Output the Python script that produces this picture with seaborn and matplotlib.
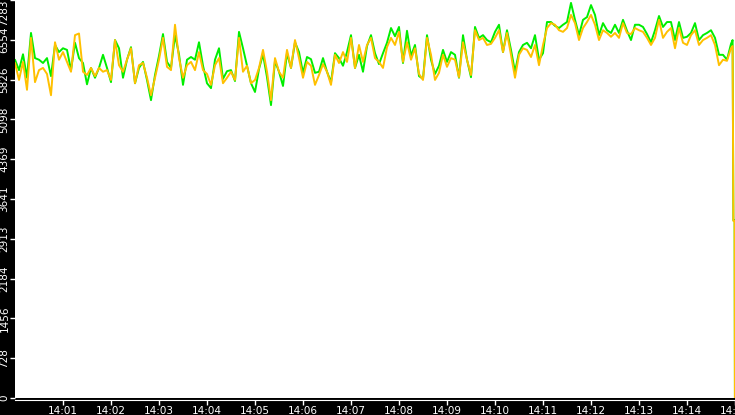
import numpy as np
import pandas as pd
import matplotlib
matplotlib.use("Agg")
import matplotlib.pyplot as plt
import matplotlib.dates as mdates
import seaborn as sns

# 卖价(绿) / 买价(黄), 14:00:00 起每 5 秒一个点
ask_values = [
    6190, 6000, 6290, 5860, 6680, 6220, 6190, 6130, 6220, 5890, 6460, 6330, 6400, 6370, 6000,
    6500, 6220, 6130, 5740, 6040, 5860, 6040, 6280, 6040, 5780, 6550, 6400, 5860, 6190, 6420,
    5760, 6040, 6150, 5820, 5450, 5910, 6260, 6660, 6150, 6040, 6640, 6290, 5730, 6190, 6240,
    6190, 6510, 6080, 5760, 5670, 6190, 6400, 5840, 5980, 6000, 5800, 6700, 6400, 6080, 5760,
    5600, 6020, 6290, 5870, 5360, 6170, 5970, 5710, 6310, 6040, 6510, 6330, 5950, 6240, 6200,
    5950, 5970, 6220, 5970, 5780, 6310, 6220, 6080, 6330, 6640, 6040, 6280, 5970, 6440, 6640,
    6310, 6110, 6310, 6500, 6770, 6620, 6790, 6130, 6720, 6260, 6460, 5890, 5840, 6640, 6190,
    5930, 6080, 6370, 6150, 6330, 6280, 5860, 6640, 6190, 5870, 6790, 6590, 6640, 6550, 6510,
    6700, 6830, 6330, 6730, 6370, 5970, 6330, 6460, 6500, 6400, 6640, 6190, 6310, 6880, 6880,
    6810, 6770, 6830, 6880, 7230, 6920, 6640, 6920, 6970, 7190, 7010, 6640, 6860, 6730, 6680,
    6830, 6680, 6920, 6720, 6550, 6830, 6830, 6790, 6660, 6510, 6730, 6990, 6790, 6880, 6880,
    6550, 6880, 6590, 6610, 6680, 6860, 6550, 6640, 6680, 6730, 6590, 6280, 6280, 6190, 6480,
]
bid_values = [
    6130, 5820, 6150, 5640, 6590, 5780, 6000, 6040, 5930, 5540, 6510, 6190, 6330, 6150, 5970,
    6640, 6670, 5970, 5910, 6040, 5890, 6040, 5970, 6000, 5820, 6550, 6090, 5970, 6190, 6400,
    5760, 6090, 6130, 5860, 5540, 5860, 6190, 6590, 6060, 6000, 6830, 6220, 5860, 6090, 6150,
    6000, 6330, 6000, 5930, 5730, 6090, 6220, 5760, 5860, 5970, 5820, 6590, 5970, 6080, 5760,
    5820, 6040, 6370, 5970, 5450, 6220, 5970, 5860, 6370, 6040, 6550, 6220, 5860, 6150, 6080,
    5730, 5910, 6110, 5970, 5730, 6280, 6130, 6330, 6150, 6590, 6040, 6460, 6150, 6460, 6590,
    6220, 6150, 6040, 6420, 6590, 6460, 6700, 6150, 6510, 6190, 6400, 5930, 5820, 6590, 6280,
    5820, 5950, 6280, 6060, 6220, 6190, 5870, 6510, 6190, 5910, 6730, 6550, 6590, 6460, 6480,
    6590, 6730, 6330, 6680, 6280, 5860, 6280, 6400, 6370, 6240, 6460, 6090, 6460, 6770, 6860,
    6830, 6730, 6700, 6770, 7010, 6860, 6550, 6770, 6880, 7010, 6830, 6550, 6730, 6680, 6610,
    6680, 6590, 6860, 6680, 6660, 6770, 6730, 6700, 6590, 6460, 6590, 6920, 6590, 6700, 6770,
    6400, 6770, 6500, 6460, 6640, 6730, 6460, 6550, 6590, 6640, 6460, 6090, 6190, 6170, 6400,
]
# 最后几秒掉到 0
tail_times = ["14:14:57.0", "14:14:58.0", "14:14:59.5", "14:14:59.9"]
ask_tail = [6550, 3250, 3250, 0]
bid_tail = [6440, 3240, 3240, 0]

y_max = 7283
y_labels = ["0", "728", "1456", "2184", "2913", "3641", "4369", "5098", "5826", "6554", "7283"]
x_labels = ["14:01", "14:02", "14:03", "14:04", "14:05", "14:06", "14:07", "14:08",
            "14:09", "14:10", "14:11", "14:12", "14:13", "14:14", "14:15"]

day = "2000-01-01 "
times = pd.date_range(day + "14:00:00", periods=len(bid_values), freq="5s")
times = times.append(pd.to_datetime([day + t for t in tail_times], format="mixed"))
ask_df = pd.DataFrame({"time": times, "value": ask_values + ask_tail})
bid_df = pd.DataFrame({"time": times, "value": bid_values + bid_tail})

sns.set_style("white")
plt.rcParams['font.family'] = ['DejaVu Sans']

fig = plt.figure(figsize=(7.35, 4.15), dpi=100, facecolor="black")
ax = fig.add_axes([15 / 735, 17 / 415, 720 / 735, 398 / 415])
ax.set_facecolor("white")

sns.lineplot(data=ask_df, x="time", y="value", color="#00ee00", linewidth=1.4,
             estimator=None, sort=False, ax=ax)
sns.lineplot(data=bid_df, x="time", y="value", color="#ffc000", linewidth=1.4,
             estimator=None, sort=False, ax=ax)

ax.set_xlim(pd.Timestamp(day + "14:00:00"), pd.Timestamp(day + "14:15:00"))
ax.set_ylim(0, y_max)
ax.set_xlabel("")
ax.set_ylabel("")

ax.set_xticks(pd.to_datetime([day + t for t in x_labels]))
ax.xaxis.set_major_formatter(mdates.DateFormatter("%H:%M"))
ax.set_yticks(np.linspace(0, y_max, len(y_labels)))
ax.set_yticklabels(y_labels, rotation=90, va="center")

for s in ["top", "right", "left"]:
    ax.spines[s].set_visible(False)
ax.spines["bottom"].set_color("white")
ax.spines["bottom"].set_position(("outward", 1.5))
ax.tick_params(axis="both", colors="white", labelsize=7.5, direction="out",
               length=3.5, width=1, pad=0.5)
ax.tick_params(axis="x", bottom=True)
ax.tick_params(axis="y", left=True)
ax.get_yticklabels()[-1].set_va("top")

fig.savefig("out.png", dpi=100, facecolor=fig.get_facecolor())
